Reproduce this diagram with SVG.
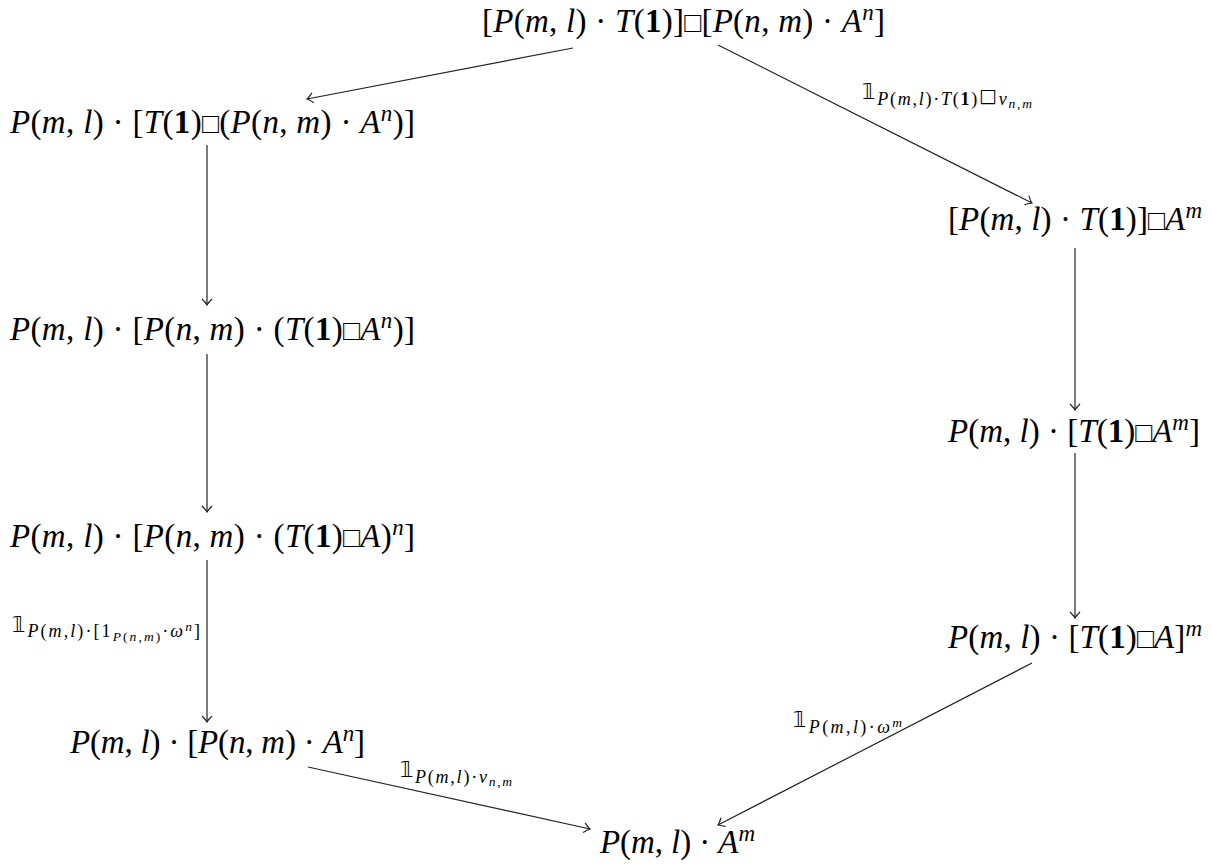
<svg xmlns="http://www.w3.org/2000/svg" width="1212" height="866" viewBox="0 0 1212 866">
<style>
.m{font-family:"Liberation Serif","DejaVu Serif",serif;font-size:33px;fill:#000}
.i{font-style:italic}
.b{font-weight:bold}
.sq{font-family:"DejaVu Sans",sans-serif;font-size:28px;font-weight:300}
.sup{font-size:23px}
.l{font-family:"Liberation Serif","DejaVu Serif",serif;font-size:18px;fill:#000}
.one{font-family:"DejaVu Sans","Noto Sans",sans-serif;font-size:21px}
.ss{font-size:13.5px}
.lsq{font-family:"DejaVu Sans",sans-serif;font-size:19px}
.e{fill:none;stroke:#222;stroke-width:1.2}
</style>
<defs>
<marker id="to" viewBox="-8 -7 10 14" refX="0" refY="0" markerWidth="10" markerHeight="14" orient="auto" markerUnits="userSpaceOnUse">
<path d="M-6,-5 Q-2,-1 0,0 Q-2,1 -6,5" fill="none" stroke="#222" stroke-width="1.2"/>
</marker>
</defs>
<g id="connectors">
<line class="e" x1="573" y1="48" x2="307" y2="99" marker-end="url(#to)"/>
<line class="e" x1="718" y1="45" x2="1032" y2="203" marker-end="url(#to)"/>
<line class="e" x1="207" y1="145" x2="207" y2="305" marker-end="url(#to)"/>
<line class="e" x1="207" y1="354" x2="207" y2="512" marker-end="url(#to)"/>
<line class="e" x1="207" y1="560" x2="207" y2="722" marker-end="url(#to)"/>
<line class="e" x1="1075" y1="248" x2="1075" y2="410" marker-end="url(#to)"/>
<line class="e" x1="1075" y1="453" x2="1075" y2="618" marker-end="url(#to)"/>
<line class="e" x1="308" y1="767" x2="590" y2="829" marker-end="url(#to)"/>
<line class="e" x1="1032" y1="663" x2="718" y2="825" marker-end="url(#to)"/>
<text class="l" x="862" y="99" textLength="170" lengthAdjust="spacing"><tspan class="one">𝟙</tspan><tspan dy="6" class="i">P</tspan>(<tspan class="i">m</tspan>,<tspan class="i">l</tspan>)·<tspan class="i">T</tspan>(<tspan class="b">1</tspan>)<tspan class="lsq" dy="-3">□</tspan><tspan class="i" dy="3">ν</tspan><tspan class="ss i" dy="3">n,m</tspan></text>
<text class="l" x="12" y="632" textLength="188" lengthAdjust="spacing"><tspan class="one">𝟙</tspan><tspan dy="5" class="i">P</tspan>(<tspan class="i">m</tspan>,<tspan class="i">l</tspan>)·[1<tspan class="ss" dy="4"><tspan class="i">P</tspan>(<tspan class="i">n</tspan>,<tspan class="i">m</tspan>)</tspan><tspan dy="-4">·</tspan><tspan class="i">ω</tspan><tspan class="ss i" dy="-6">n</tspan><tspan dy="6">]</tspan></text>
<text class="l" x="400" y="777" textLength="112" lengthAdjust="spacing"><tspan class="one">𝟙</tspan><tspan dy="6" class="i">P</tspan>(<tspan class="i">m</tspan>,<tspan class="i">l</tspan>)·<tspan class="i">ν</tspan><tspan class="ss i" dy="3">n,m</tspan></text>
<text class="l" x="793" y="727" textLength="109" lengthAdjust="spacing"><tspan class="one">𝟙</tspan><tspan dy="6" class="i">P</tspan>(<tspan class="i">m</tspan>,<tspan class="i">l</tspan>)·<tspan class="i">ω</tspan><tspan class="ss i" dy="-6">m</tspan></text>
</g>
<g id="n-top"><text class="m" x="482" y="32" textLength="403" lengthAdjust="spacing">[<tspan class="i">P</tspan>(<tspan class="i">m</tspan>, <tspan class="i">l</tspan>) · <tspan class="i">T</tspan>(<tspan class="b">1</tspan>)]<tspan class="sq">□</tspan>[<tspan class="i">P</tspan>(<tspan class="i">n</tspan>, <tspan class="i">m</tspan>) · <tspan class="i">A</tspan><tspan class="sup i" dy="-12">n</tspan><tspan dy="12">]</tspan></text></g>
<g id="n-left1"><text class="m" x="10" y="133" textLength="405" lengthAdjust="spacing"><tspan class="i">P</tspan>(<tspan class="i">m</tspan>, <tspan class="i">l</tspan>) · [<tspan class="i">T</tspan>(<tspan class="b">1</tspan>)<tspan class="sq">□</tspan>(<tspan class="i">P</tspan>(<tspan class="i">n</tspan>, <tspan class="i">m</tspan>) · <tspan class="i">A</tspan><tspan class="sup i" dy="-12">n</tspan><tspan dy="12">)]</tspan></text></g>
<g id="n-left2"><text class="m" x="10" y="340" textLength="405" lengthAdjust="spacing"><tspan class="i">P</tspan>(<tspan class="i">m</tspan>, <tspan class="i">l</tspan>) · [<tspan class="i">P</tspan>(<tspan class="i">n</tspan>, <tspan class="i">m</tspan>) · (<tspan class="i">T</tspan>(<tspan class="b">1</tspan>)<tspan class="sq">□</tspan><tspan class="i">A</tspan><tspan class="sup i" dy="-12">n</tspan><tspan dy="12">)]</tspan></text></g>
<g id="n-left3"><text class="m" x="10" y="547" textLength="405" lengthAdjust="spacing"><tspan class="i">P</tspan>(<tspan class="i">m</tspan>, <tspan class="i">l</tspan>) · [<tspan class="i">P</tspan>(<tspan class="i">n</tspan>, <tspan class="i">m</tspan>) · (<tspan class="i">T</tspan>(<tspan class="b">1</tspan>)<tspan class="sq">□</tspan><tspan class="i">A</tspan>)<tspan class="sup i" dy="-12">n</tspan><tspan dy="12">]</tspan></text></g>
<g id="n-left4"><text class="m" x="70" y="753" textLength="295" lengthAdjust="spacing"><tspan class="i">P</tspan>(<tspan class="i">m</tspan>, <tspan class="i">l</tspan>) · [<tspan class="i">P</tspan>(<tspan class="i">n</tspan>, <tspan class="i">m</tspan>) · <tspan class="i">A</tspan><tspan class="sup i" dy="-12">n</tspan><tspan dy="12">]</tspan></text></g>
<g id="n-right1"><text class="m" x="948" y="230" textLength="254" lengthAdjust="spacing">[<tspan class="i">P</tspan>(<tspan class="i">m</tspan>, <tspan class="i">l</tspan>) · <tspan class="i">T</tspan>(<tspan class="b">1</tspan>)]<tspan class="sq">□</tspan><tspan class="i">A</tspan><tspan class="sup i" dy="-12">m</tspan></text></g>
<g id="n-right2"><text class="m" x="948" y="442" textLength="252" lengthAdjust="spacing"><tspan class="i">P</tspan>(<tspan class="i">m</tspan>, <tspan class="i">l</tspan>) · [<tspan class="i">T</tspan>(<tspan class="b">1</tspan>)<tspan class="sq">□</tspan><tspan class="i">A</tspan><tspan class="sup i" dy="-12">m</tspan><tspan dy="12">]</tspan></text></g>
<g id="n-right3"><text class="m" x="948" y="648" textLength="254" lengthAdjust="spacing"><tspan class="i">P</tspan>(<tspan class="i">m</tspan>, <tspan class="i">l</tspan>) · [<tspan class="i">T</tspan>(<tspan class="b">1</tspan>)<tspan class="sq">□</tspan><tspan class="i">A</tspan>]<tspan class="sup i" dy="-12">m</tspan></text></g>
<g id="n-bottom"><text class="m" x="600" y="853" textLength="155" lengthAdjust="spacing"><tspan class="i">P</tspan>(<tspan class="i">m</tspan>, <tspan class="i">l</tspan>) · <tspan class="i">A</tspan><tspan class="sup i" dy="-12">m</tspan></text></g>
</svg>
